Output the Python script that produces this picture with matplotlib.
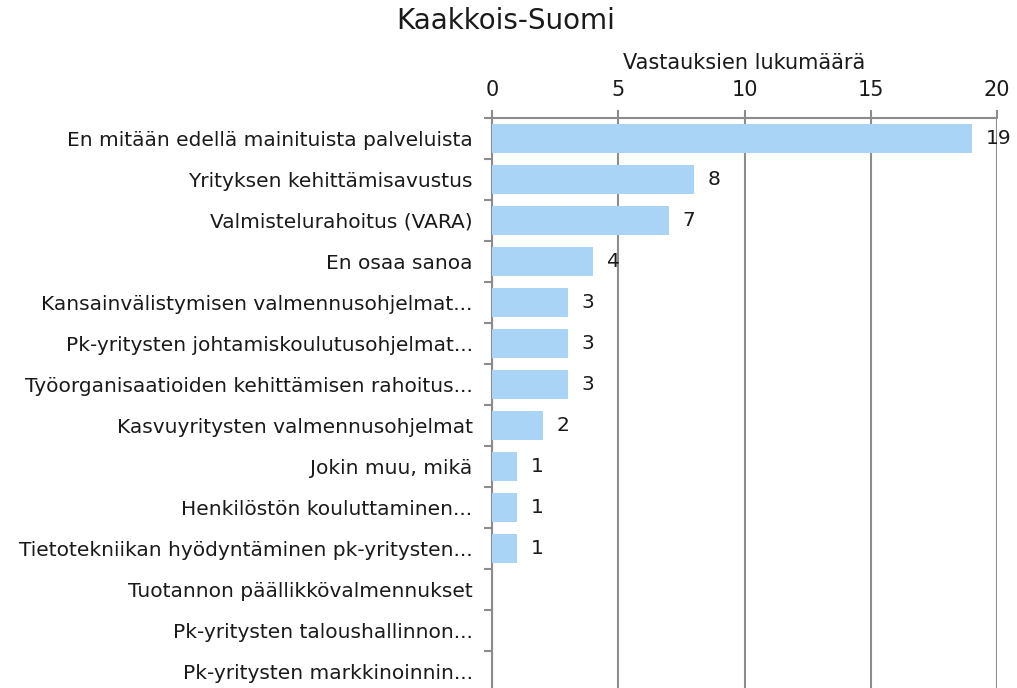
import matplotlib
matplotlib.use('Agg')
import matplotlib.pyplot as plt

categories = [
    'En mitään edellä mainituista palveluista',
    'Yrityksen kehittämisavustus',
    'Valmistelurahoitus (VARA)',
    'En osaa sanoa',
    'Kansainvälistymisen valmennusohjelmat...',
    'Pk-yritysten johtamiskoulutusohjelmat...',
    'Työorganisaatioiden kehittämisen rahoitus...',
    'Kasvuyritysten valmennusohjelmat',
    'Jokin muu, mikä',
    'Henkilöstön kouluttaminen...',
    'Tietotekniikan hyödyntäminen pk-yritysten...',
    'Tuotannon päällikkövalmennukset',
    'Pk-yritysten taloushallinnon...',
    'Pk-yritysten markkinoinnin...',
]
values = [19, 8, 7, 4, 3, 3, 3, 2, 1, 1, 1, 0, 0, 0]
x_ticks = [0, 5, 10, 15, 20]

bar_color = '#A9D4F5'
line_color = '#8C8C8C'
text_color = '#1a1a1a'

fig = plt.figure(figsize=(10.17, 6.88), dpi=100)
ax = fig.add_axes([0.4838, -0.0058, 0.4966, 0.8343])

pos = list(range(len(categories)))
ax.barh(pos, values, height=0.72, color=bar_color, zorder=3)

for p, v in zip(pos, values):
    if v > 0:
        ax.text(v + 0.55, p, str(v), va='center', ha='left', fontsize=14.5, color=text_color)

ax.set_xlim(0, 20)
ax.set_ylim(len(categories) - 0.5, -0.5)
ax.set_xticks(x_ticks)
ax.xaxis.tick_top()
ax.xaxis.set_label_position('top')
ax.set_xlabel('Vastauksien lukumäärä', fontsize=15, labelpad=8, color=text_color)
ax.grid(axis='x', color=line_color, linewidth=1.5, zorder=0)

# category labels in the middle, ticks on the boundaries
ax.set_yticks([p + 0.5 for p in pos[:-1]] + [-0.5])
ax.set_yticklabels([])
ax.set_yticks(pos, minor=True)
ax.set_yticklabels(categories, minor=True, fontsize=14.5, color=text_color)
ax.tick_params(axis='y', which='minor', length=0, pad=14)
ax.tick_params(axis='y', which='major', length=6, width=1.5, color=line_color)
ax.tick_params(axis='x', length=6, width=1.5, color=line_color, labelsize=15,
               labelcolor=text_color, pad=7)

for side in ['right', 'bottom']:
    ax.spines[side].set_visible(False)
for side in ['top', 'left']:
    ax.spines[side].set_color(line_color)
    ax.spines[side].set_linewidth(1.5)

fig.text(0.4975, 0.97, 'Kaakkois-Suomi', ha='center', va='center', fontsize=20, color=text_color)

fig.savefig('out.png', dpi=100, facecolor='white')
